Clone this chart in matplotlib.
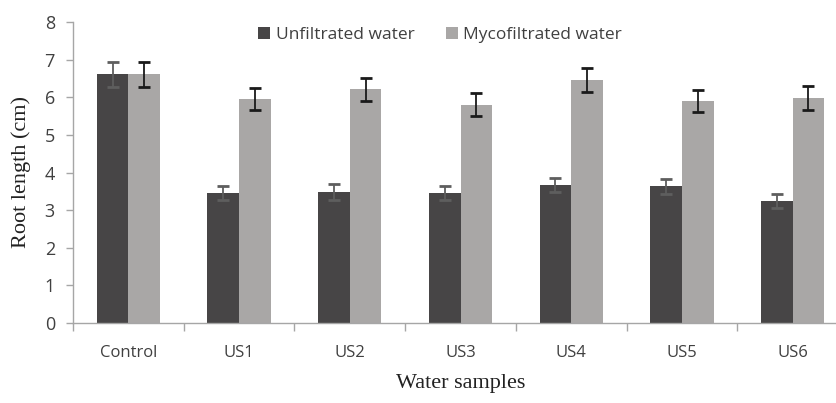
import matplotlib
matplotlib.use("Agg")
import matplotlib.pyplot as plt
import numpy as np

categories = ["Control", "US1", "US2", "US3", "US4", "US5", "US6"]
unfiltered = [6.61, 3.45, 3.48, 3.45, 3.67, 3.64, 3.24]
unfiltered_err = [0.34, 0.19, 0.21, 0.19, 0.19, 0.20, 0.19]
mycofiltered = [6.61, 5.95, 6.21, 5.80, 6.46, 5.89, 5.98]
mycofiltered_err = [0.34, 0.30, 0.31, 0.31, 0.31, 0.29, 0.31]
series_names = ["Unfiltrated water", "Mycofiltrated water"]

dark = "#474546"
light = "#a9a7a6"
axcol = "#a6a6a6"

fig = plt.figure(figsize=(8.36, 4.03), dpi=100)
ax = fig.add_axes([73/836, 80/403, (848-73)/836, (323-22)/403])

x = np.arange(len(categories))
w = 0.286
ax.bar(x - w/2, unfiltered, w, color=dark, label=series_names[0], zorder=2)
ax.bar(x + w/2, mycofiltered, w, color=light, label=series_names[1], zorder=2)
ax.errorbar(x - w/2, unfiltered, yerr=unfiltered_err, fmt="none", ecolor="#5e5e5e",
            elinewidth=1.3, capsize=4, capthick=2, zorder=3)
ax.errorbar(x + w/2, mycofiltered, yerr=mycofiltered_err, fmt="none", ecolor="#1a1a1a",
            elinewidth=1.3, capsize=4, capthick=2, zorder=3)

ax.set_xlim(-0.5, len(categories) - 0.5)
ax.set_ylim(0, 8)
ax.set_yticks(range(0, 9))
ax.set_xticks(x)
ax.set_xticklabels(categories)
ax.set_xticks(np.arange(-0.5, len(categories)), minor=True)
ax.tick_params(axis="x", which="major", length=0, pad=16, labelsize=12, labelcolor="#404040")
ax.tick_params(axis="x", which="minor", length=6, color=axcol, width=1)
ax.tick_params(axis="y", length=5, color=axcol, width=1, labelsize=13, labelcolor="#404040", pad=8)
for lab in ax.get_xticklabels() + ax.get_yticklabels():
    lab.set_family("Open Sans")

for s in ["top", "right"]:
    ax.spines[s].set_visible(False)
for s in ["left", "bottom"]:
    ax.spines[s].set_color(axcol)
    ax.spines[s].set_linewidth(1)

ax.set_ylabel("Root length (cm)", family="Liberation Serif", fontsize=16, color="#222222", labelpad=10)
ax.set_xlabel("Water samples", family="Liberation Serif", fontsize=16, color="#222222", labelpad=9)

leg = fig.legend(loc="center", bbox_to_anchor=(440/836, 1 - 35/403), ncol=2, frameon=False,
                 prop={"family": "Open Sans", "size": 12.5}, handlelength=0.7, handleheight=0.7,
                 handletextpad=0.3, columnspacing=1.8)
for t in leg.get_texts():
    t.set_color("#404040")

fig.savefig("out.png", dpi=100)
